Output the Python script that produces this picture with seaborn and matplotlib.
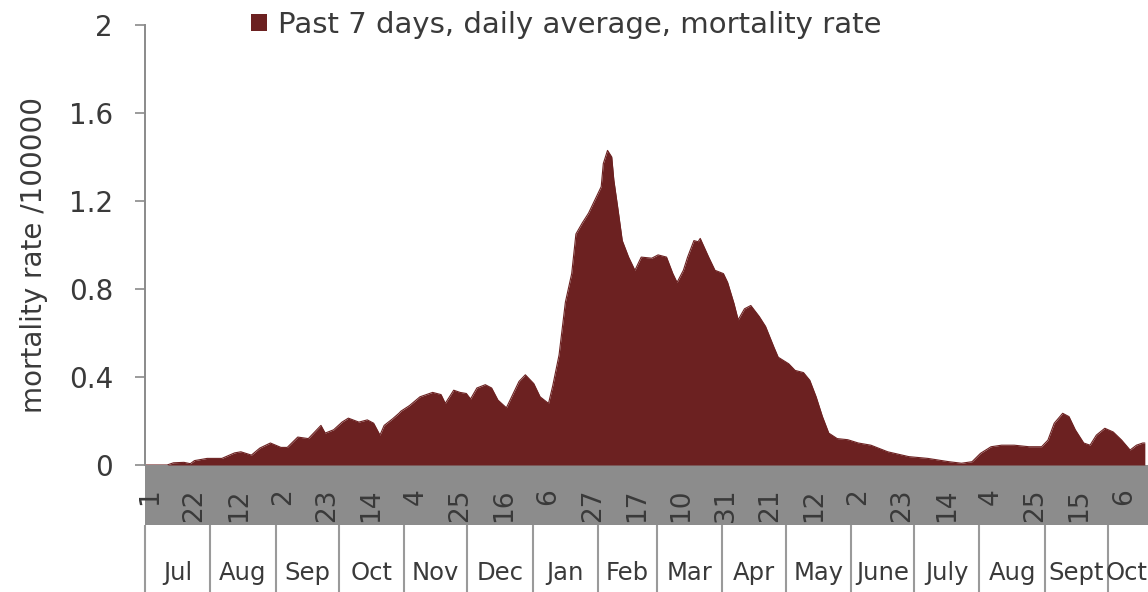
import matplotlib
matplotlib.use("Agg")
import matplotlib.pyplot as plt
import matplotlib.transforms as mtransforms
from matplotlib.patches import Rectangle
import seaborn as sns
import pandas as pd

# days counted from 1 Jul 2020
start_date = "2020-07-01"
day_offsets = [0, 10, 13, 18, 21, 23, 29, 36, 42, 45, 50, 54, 59, 64, 67, 72, 77, 80, 83, 85,
               89, 93, 96, 101, 105, 108, 111, 113, 117, 120, 121, 125, 130, 136, 140, 142, 146,
               149, 152, 154, 157, 161, 164, 167, 171, 174, 177, 180, 184, 187, 191, 193, 196,
               199, 202, 204, 207, 210, 213, 216, 217, 219, 221, 222, 224, 226, 229, 232, 235,
               240, 243, 247, 250, 252, 255, 257, 260, 262, 263, 267, 270, 274, 276, 279, 281,
               284, 287, 291, 294, 298, 300, 305, 308, 312, 315, 318, 321, 324, 328, 333, 338,
               344, 352, 362, 371, 381, 387, 392, 396, 401, 406, 412, 419, 425, 428, 431, 435,
               438, 441, 445, 448, 451, 455, 459, 463, 467, 470, 473, 474]
mortality_rate = [0.0, 0.0, 0.01, 0.012, 0.006, 0.02, 0.03, 0.03, 0.055, 0.06, 0.045, 0.077,
                  0.10, 0.08, 0.08, 0.127, 0.12, 0.15, 0.18, 0.145, 0.16, 0.195, 0.213, 0.195,
                  0.205, 0.19, 0.136, 0.18, 0.21, 0.235, 0.245, 0.27, 0.31, 0.33, 0.32, 0.28,
                  0.34, 0.33, 0.325, 0.30, 0.35, 0.365, 0.35, 0.295, 0.26, 0.32, 0.38, 0.41,
                  0.37, 0.31, 0.28, 0.36, 0.50, 0.74, 0.87, 1.05, 1.10, 1.145, 1.205, 1.265,
                  1.37, 1.43, 1.40, 1.295, 1.16, 1.02, 0.945, 0.885, 0.945, 0.94, 0.955, 0.945,
                  0.87, 0.83, 0.885, 0.945, 1.02, 1.015, 1.03, 0.945, 0.885, 0.87, 0.83, 0.735,
                  0.66, 0.71, 0.725, 0.675, 0.63, 0.535, 0.49, 0.46, 0.43, 0.42, 0.385, 0.31,
                  0.22, 0.145, 0.12, 0.115, 0.10, 0.09, 0.06, 0.038, 0.03, 0.015, 0.008, 0.015,
                  0.053, 0.083, 0.09, 0.09, 0.083, 0.083, 0.113, 0.19, 0.235, 0.22, 0.16, 0.10,
                  0.09, 0.136, 0.167, 0.15, 0.113, 0.068, 0.09, 0.10, 0.10]
month_labels = ["Jul", "Aug", "Sep", "Oct", "Nov", "Dec", "Jan", "Feb", "Mar", "Apr", "May",
                "June", "July", "Aug", "Sept", "Oct"]
y_ticks = [0, 0.4, 0.8, 1.2, 1.6, 2]
y_tick_labels = ["0", "0.4", "0.8", "1.2", "1.6", "2"]
tick_step_days = 21
last_day = 474

area_color = "#6c2121"
band_color = "#8c8c8c"
text_color = "#3a3a3a"

df = pd.DataFrame({"day": day_offsets, "rate": mortality_rate})
t0 = pd.Timestamp(start_date)

sns.set_theme(style="white")
plt.rcParams['font.family'] = ['DejaVu Sans']

fig = plt.figure(figsize=(11.48, 5.92), dpi=100)
ax = fig.add_axes([145 / 1148, 127 / 592, 1003 / 1148, 440 / 592])

# grey band behind the day labels (figure level, under the axes)
fig.add_artist(Rectangle((145 / 1148, 67 / 592), 1003 / 1148, 60 / 592,
                         transform=fig.transFigure, facecolor=band_color,
                         edgecolor="none", zorder=-1))

sns.lineplot(data=df, x="day", y="rate", color=area_color, lw=0.8, ax=ax)
ax.fill_between(df["day"], df["rate"], 0, color=area_color, lw=0,
                label="Past 7 days, daily average, mortality rate")

ax.set_xlim(-0.5, last_day + 1.5)
ax.set_ylim(0, 2)
ax.set_yticks(y_ticks)
ax.set_yticklabels(y_tick_labels)
ax.tick_params(axis="y", length=7, width=1.2, color="#8a8a8a", pad=16,
               labelsize=20, labelcolor=text_color, left=True)

# day-of-month labels every three weeks
tick_days = list(range(0, last_day, tick_step_days))
tick_text = [str((t0 + pd.Timedelta(days=d)).day) for d in tick_days]
ax.set_xticks([d + 2 for d in tick_days])
ax.set_xticklabels(tick_text, rotation=90, va="top", ha="center")
ax.tick_params(axis="x", length=0, pad=17, labelsize=19, labelcolor=text_color)
ax.set_xlabel("")
ax.set_ylabel("mortality rate /100000", fontsize=20, color=text_color)
ax.yaxis.set_label_coords(-0.097, 0.477)

for side in ["top", "right", "bottom"]:
    ax.spines[side].set_visible(False)
ax.spines["left"].set_color("#8a8a8a")
ax.spines["left"].set_linewidth(1.4)

# month boxes under the band
band_h = 60 / 440
trans = mtransforms.blended_transform_factory(ax.transData, ax.transAxes)
month_starts = pd.date_range(t0, t0 + pd.Timedelta(days=last_day), freq="MS")
edges = [(m - t0).days - 0.5 for m in month_starts] + [last_day + 1.5]
ax.vlines(edges[:-1], -band_h - 70 / 440, -band_h, transform=trans, colors="#9a9a9a",
          lw=1.5, clip_on=False)
for i, lab in enumerate(month_labels):
    if i == len(month_labels) - 1:
        # last (partial) month: keep the label inside the picture
        xpos, ha = edges[i + 1] - 0.3, "right"
    else:
        xpos, ha = (edges[i] + edges[i + 1]) / 2, "center"
    ax.text(xpos, -band_h - 48 / 440, lab, transform=trans, ha=ha, va="center",
            fontsize=17.5, color=text_color, clip_on=False)

ax.legend(loc="center", bbox_to_anchor=(0.42, 1.0), frameon=False, fontsize=21,
          handlelength=0.55, handleheight=0.55, handletextpad=0.35, labelcolor=text_color)

fig.savefig("out.png", dpi=100)
